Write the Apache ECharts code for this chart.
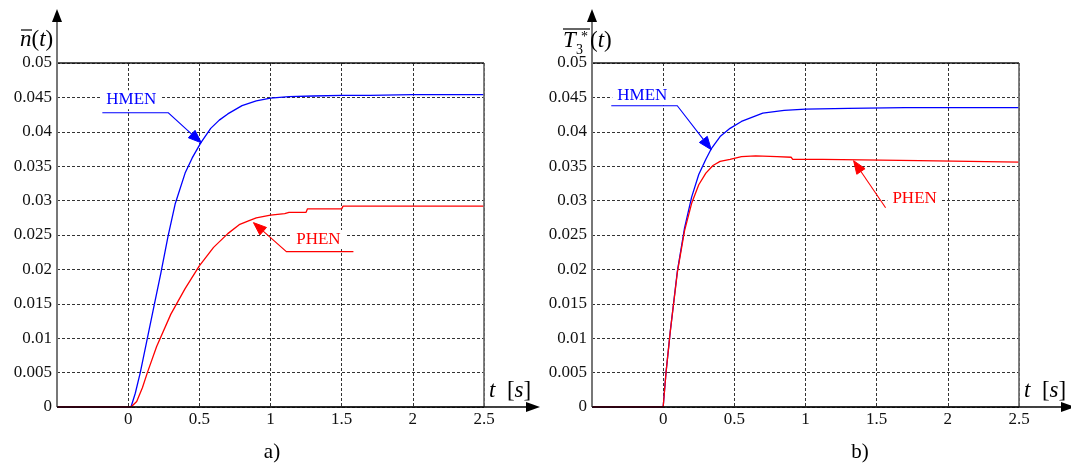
<!DOCTYPE html>
<html><head><meta charset="utf-8">
<script src="https://cdn.jsdelivr.net/npm/echarts@6/dist/echarts.min.js"></script>
<style>html,body{margin:0;padding:0;background:#fff}#c{width:1071px;height:467px}</style>
</head><body><div id="c"></div>
<script>
// ---- data ----
const xTickLabels = ['', '0', '0.5', '1', '1.5', '2', '2.5'];
const yTickLabels = ['0','0.005','0.01','0.015','0.02','0.025','0.03','0.035','0.04','0.045','0.05'];

const tA_HMEN = [-0.5, 0, 0.02, 0.05, 0.085, 0.13, 0.18, 0.23, 0.28, 0.33, 0.4, 0.45, 0.51, 0.58, 0.64, 0.7, 0.8, 0.9, 1.0, 1.13, 1.3, 1.5, 1.7, 2.0, 2.5];
const vA_HMEN = [0, 0, 0, 0.002, 0.005, 0.0095, 0.0145, 0.0195, 0.0248, 0.0295, 0.034, 0.0362, 0.0384, 0.0405, 0.0417, 0.0426, 0.0438, 0.0445, 0.0449, 0.0451, 0.0452, 0.0453, 0.0453, 0.0454, 0.0454];

const tA_PHEN = [-0.5, 0, 0.02, 0.06, 0.1, 0.135, 0.2, 0.3, 0.4, 0.5, 0.6, 0.7, 0.78, 0.85, 0.9, 1.0, 1.1, 1.13, 1.25, 1.26, 1.5, 1.51, 2.5];
const vA_PHEN = [0, 0, 0, 0.0008, 0.0028, 0.005, 0.0088, 0.0135, 0.0172, 0.0205, 0.0232, 0.0252, 0.0265, 0.0271, 0.0275, 0.0279, 0.0281, 0.0283, 0.0283, 0.0288, 0.0288, 0.0292, 0.0292];

const tB_HMEN = [-0.5, 0, 0.02, 0.05, 0.1, 0.15, 0.2, 0.25, 0.3, 0.34, 0.4, 0.47, 0.55, 0.7, 0.85, 1.0, 1.3, 1.7, 2.5];
const vB_HMEN = [0, 0, 0.005, 0.011, 0.0198, 0.026, 0.0305, 0.0338, 0.036, 0.0376, 0.0393, 0.0405, 0.0415, 0.0427, 0.0431, 0.0433, 0.0434, 0.0435, 0.0435];

const tB_PHEN = [-0.5, 0, 0.02, 0.05, 0.1, 0.15, 0.2, 0.25, 0.3, 0.35, 0.4, 0.47, 0.55, 0.65, 0.8, 0.9, 0.91, 1.12, 1.13, 1.8, 1.81, 2.5];
const vB_PHEN = [0, 0, 0.005, 0.011, 0.0196, 0.0256, 0.0296, 0.0323, 0.034, 0.0351, 0.0357, 0.036, 0.0364, 0.0365, 0.0364, 0.0363, 0.036, 0.036, 0.0358, 0.0358, 0.0356, 0.0356];

// annotation anchors (data coords) on the curves
const annotations = [
  {grid: 0, name: 'HMEN', color: '#0000ff', tip: [0.514, 0.0384], knee: [-33, -30], end: [-99, -30], text: [-70, -43]},
  {grid: 0, name: 'PHEN', color: '#ff0000', tip: [0.88, 0.0268], knee: [33, 29], end: [100, 29], text: [65, 17]},
  {grid: 1, name: 'HMEN', color: '#0000ff', tip: [0.338, 0.0374], knee: [-34, -44], end: [-100, -44], text: [-69, -54]},
  {grid: 1, name: 'PHEN', color: '#ff0000', tip: [1.338, 0.0358], knee: null, end: [32, 47], text: [61, 38]}
];

const FONT = '"Liberation Serif", "Times New Roman", serif';
const zip = (t, v) => t.map((x, i) => [x, v[i]]);

const chart = echarts.init(document.getElementById('c'), null, {renderer: 'canvas'});

function gridCfg(left) {
  return {left: left, top: 63, width: 427, height: 344, show: true, borderColor: '#444', borderWidth: 1, backgroundColor: 'transparent'};
}
function xAxisCfg(i) {
  return {
    type: 'value', gridIndex: i, min: -0.5, max: 2.5, interval: 0.5,
    axisLine: {show: false}, axisTick: {show: false},
    axisLabel: {margin: 4, fontFamily: FONT, fontSize: 17, color: '#111',
      formatter: v => xTickLabels[Math.round((v + 0.5) / 0.5)] || ''},
    splitLine: {show: true, lineStyle: {color: '#333', type: [3, 2], width: 1}}
  };
}
function yAxisCfg(i) {
  return {
    type: 'value', gridIndex: i, min: 0, max: 0.05, interval: 0.005,
    axisLine: {show: false}, axisTick: {show: false},
    axisLabel: {margin: 5, fontFamily: FONT, fontSize: 17, color: '#111',
      formatter: v => yTickLabels[Math.round(v / 0.005)]},
    splitLine: {show: true, lineStyle: {color: '#333', type: [3, 2], width: 1}}
  };
}
function lineSeries(i, data, color) {
  return {type: 'line', xAxisIndex: i, yAxisIndex: i, data: data, showSymbol: false,
    lineStyle: {color: color, width: 1.3}, itemStyle: {color: color}, animation: false, z: 3};
}

chart.setOption({
  animation: false,
  grid: [gridCfg(57), gridCfg(592)],
  xAxis: [xAxisCfg(0), xAxisCfg(1)],
  yAxis: [yAxisCfg(0), yAxisCfg(1)],
  series: [
    lineSeries(0, zip(tA_HMEN, vA_HMEN), '#0000ff'),
    lineSeries(0, zip(tA_PHEN, vA_PHEN), '#ff0000'),
    lineSeries(1, zip(tB_HMEN, vB_HMEN), '#0000ff'),
    lineSeries(1, zip(tB_PHEN, vB_PHEN), '#ff0000')
  ]
});

function px(g, p) { return chart.convertToPixel({xAxisIndex: g, yAxisIndex: g}, p); }
function arrowHead(tip, from, len, half, color) {
  const dx = tip[0] - from[0], dy = tip[1] - from[1];
  const L = Math.hypot(dx, dy) || 1;
  const ux = dx / L, uy = dy / L;
  const bx = tip[0] - ux * len, by = tip[1] - uy * len;
  return {
    base: [bx, by],
    el: {type: 'polygon', z: 20, shape: {points: [tip, [bx - uy * half, by + ux * half], [bx + uy * half, by - ux * half]]},
      style: {fill: color, stroke: color, lineWidth: 1}}
  };
}

const g = [];
[0, 1].forEach(i => {
  const o = px(i, [-0.5, 0]);
  const tr = px(i, [2.5, 0.05]);
  // y axis (grey) with arrow
  g.push({type: 'line', z: 15, shape: {x1: o[0], y1: o[1], x2: o[0], y2: 20}, style: {stroke: '#777', lineWidth: 2}});
  g.push({type: 'polygon', z: 15, shape: {points: [[o[0], 9], [o[0] - 5, 22], [o[0] + 5, 22]]}, style: {fill: '#000'}});
  // x axis (black) with arrow
  g.push({type: 'line', z: 15, shape: {x1: o[0], y1: o[1], x2: tr[0] + 44, y2: o[1]}, style: {stroke: '#000', lineWidth: 1.3}});
  g.push({type: 'polygon', z: 15, shape: {points: [[tr[0] + 56, o[1]], [tr[0] + 42, o[1] - 5], [tr[0] + 42, o[1] + 5]]}, style: {fill: '#000'}});
  // right border grey
  g.push({type: 'line', z: 14, shape: {x1: tr[0], y1: tr[1], x2: tr[0], y2: o[1]}, style: {stroke: '#777', lineWidth: 1.5}});
  // top border black
  g.push({type: 'line', z: 14, shape: {x1: o[0], y1: tr[1], x2: tr[0], y2: tr[1]}, style: {stroke: '#000', lineWidth: 1.2}});
  // t [s] label
  g.push({type: 'text', z: 16, x: tr[0] + 5, y: o[1] - 16, style: {
    text: '{i|t}{n|  [}{i|s}{n|]}', verticalAlign: 'middle', align: 'left',
    rich: {i: {fontFamily: FONT, fontStyle: 'italic', fontSize: 23, fill: '#000'}, n: {fontFamily: FONT, fontSize: 23, fill: '#000'}}
  }});
});

// y axis titles
const L0 = px(0, [-0.5, 0])[0];
g.push({type: 'text', z: 16, x: L0 - 37, y: 40, style: {
  text: '{i|n}{n|(}{i|t}{n|)}', verticalAlign: 'middle', align: 'left',
  rich: {i: {fontFamily: FONT, fontStyle: 'italic', fontSize: 23, fill: '#000'}, n: {fontFamily: FONT, fontSize: 23, fill: '#000'}}
}});
g.push({type: 'line', z: 16, shape: {x1: L0 - 36, y1: 30, x2: L0 - 25, y2: 30}, style: {stroke: '#000', lineWidth: 1.2}});

const L1 = px(1, [-0.5, 0])[0];
g.push({type: 'text', z: 16, x: L1 - 29, y: 41, style: {text: 'T', verticalAlign: 'middle', align: 'left', fontFamily: FONT, fontStyle: 'italic', fontSize: 23, fill: '#000'}});
g.push({type: 'text', z: 16, x: L1 - 16, y: 50, style: {text: '3', verticalAlign: 'middle', align: 'left', fontFamily: FONT, fontSize: 14, fill: '#000'}});
g.push({type: 'text', z: 16, x: L1 - 11, y: 37, style: {text: '*', verticalAlign: 'middle', align: 'left', fontFamily: FONT, fontSize: 14, fill: '#000'}});
g.push({type: 'text', z: 16, x: L1 - 2, y: 41, style: {
  text: '{n|(}{i|t}{n|)}', verticalAlign: 'middle', align: 'left',
  rich: {i: {fontFamily: FONT, fontStyle: 'italic', fontSize: 23, fill: '#000'}, n: {fontFamily: FONT, fontSize: 23, fill: '#000'}}
}});
g.push({type: 'line', z: 16, shape: {x1: L1 - 29, y1: 29, x2: L1 - 2, y2: 29}, style: {stroke: '#000', lineWidth: 1.2}});

// captions
g.push({type: 'text', z: 16, x: 272, y: 452, style: {text: 'a)', align: 'center', verticalAlign: 'middle', fontFamily: FONT, fontSize: 21, fill: '#000'}});
g.push({type: 'text', z: 16, x: 860, y: 452, style: {text: 'b)', align: 'center', verticalAlign: 'middle', fontFamily: FONT, fontSize: 21, fill: '#000'}});

// annotations
annotations.forEach(a => {
  const tip = px(a.grid, a.tip);
  const off = d => [tip[0] + d[0], tip[1] + d[1]];
  const from = a.knee ? off(a.knee) : off(a.end);
  const ah = arrowHead(tip, from, 13, 5, a.color);
  const pts = a.knee ? [off(a.end), off(a.knee), ah.base] : [off(a.end), ah.base];
  g.push({type: 'polyline', z: 19, shape: {points: pts}, style: {stroke: a.color, lineWidth: 1.1, fill: null}});
  g.push(ah.el);
  const tp = off(a.text);
  g.push({type: 'text', z: 18, x: tp[0], y: tp[1], style: {
    text: a.name, align: 'center', verticalAlign: 'middle', fontFamily: FONT, fontSize: 17,
    fill: a.color, backgroundColor: '#fff', padding: [1, 5]
  }});
});

chart.setOption({graphic: g});
</script>
</body></html>
